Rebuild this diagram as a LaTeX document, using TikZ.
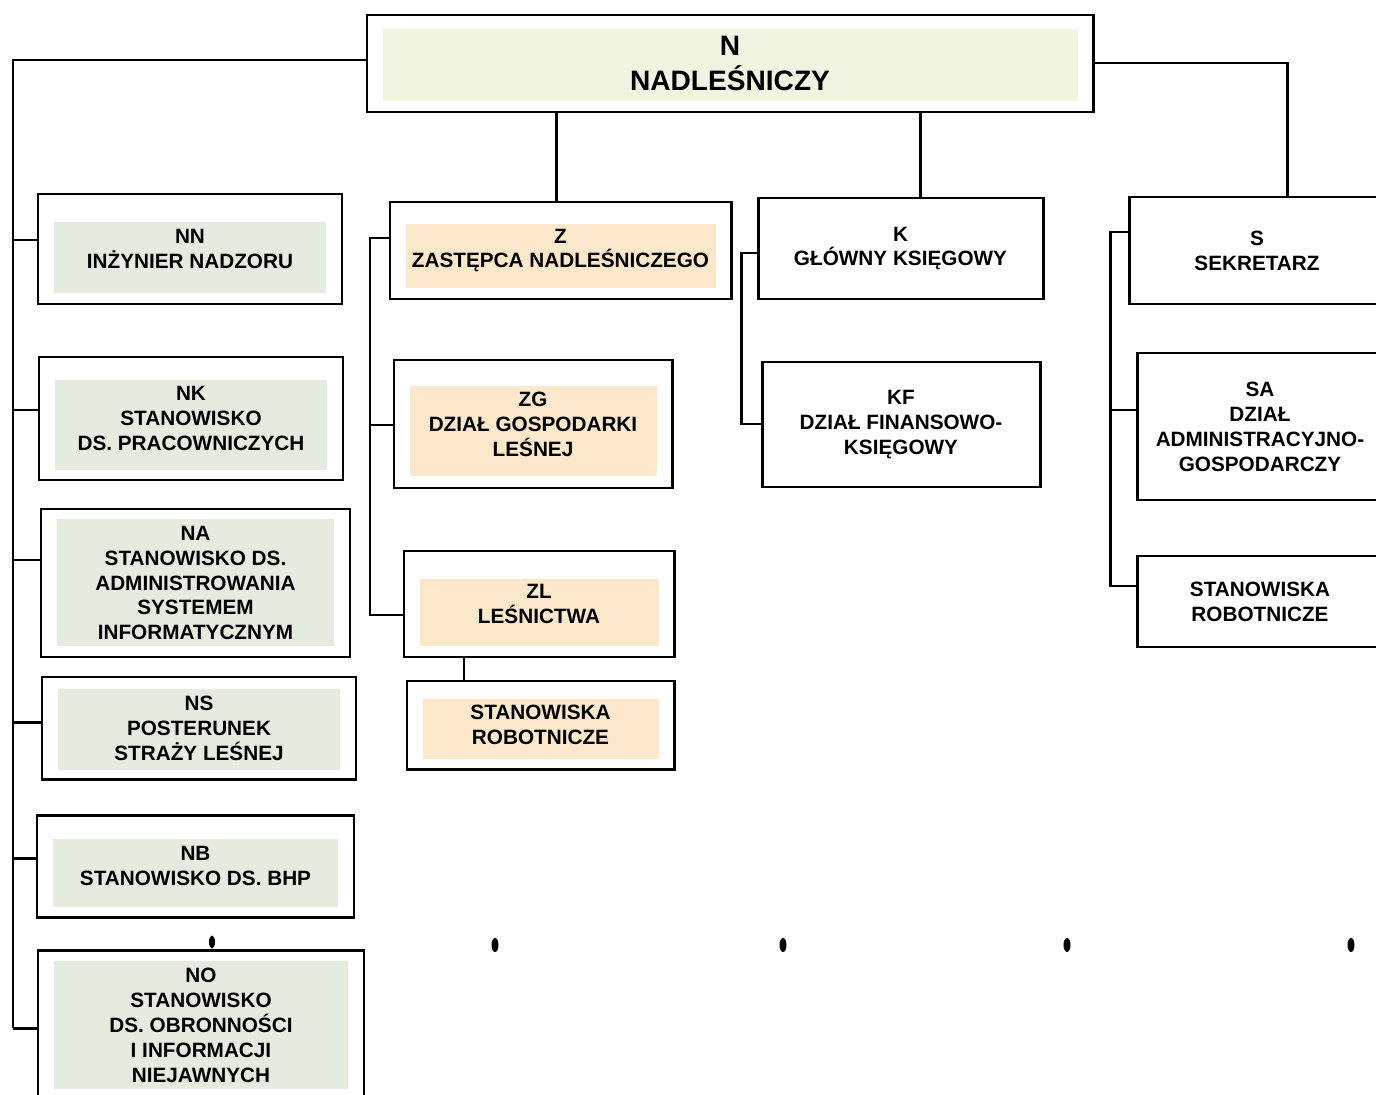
\documentclass[tikz,border=0pt]{standalone}
\usepackage{fontspec}
\setmainfont{Liberation Sans}
\usetikzlibrary{calc, backgrounds}

\definecolor{fillN}{HTML}{F2F4E2}
\definecolor{fillgreen}{HTML}{E5ECDF}
\definecolor{fillpeach}{HTML}{FBE8CA}

\tikzset{
    unit/.style 2 args={draw, line width=1.7pt, align=center, inner sep=0pt,
        font=\bfseries\fontsize{11.8}{14.2}\selectfont,
        minimum width=#1*0.02cm, minimum height=#2*0.02cm},
    link/.style={line width=1.7pt},
}

% tinted panel inside a box: node, colour, top and bottom inset
\newcommand{\boxfill}[4]{%
    \fill[#2] ($(#1.north west)+(17,#3)$) rectangle ($(#1.south east)+(-17,-#4)$);}

\begin{document}
\begin{tikzpicture}[x=0.02cm, y=-0.02cm]
    \useasboundingbox (0,0) rectangle (1376,1095);

    % head
    \node[unit={726}{97}, font=\bfseries\fontsize{16}{19.9}\selectfont] (N) at (730,63.5) {N\\NADLEŚNICZY};

    % left column
    \node[unit={304}{110}] (NN) at (190,249) {NN\\INŻYNIER NADZORU};
    \node[unit={304}{123}] (NK) at (191,418.5) {NK\\STANOWISKO\\DS. PRACOWNICZYCH};
    \node[unit={309}{148}] (NA) at (195.5,583) {NA\\STANOWISKO DS.\\ADMINISTROWANIA\\SYSTEMEM\\INFORMATYCZNYM};
    \node[unit={314}{102}] (NS) at (199,728) {NS\\POSTERUNEK\\STRAŻY LEŚNEJ};
    \node[unit={317}{102}] (NB) at (195.5,866) {NB\\STANOWISKO DS. BHP};
    \node[unit={326}{150}] (NO) at (201,1025) {NO\\STANOWISKO\\DS. OBRONNOŚCI\\I INFORMACJI\\NIEJAWNYCH};

    % deputy
    \node[unit={341}{97}] (Z) at (560.5,250.5) {Z\\ZASTĘPCA NADLEŚNICZEGO};
    \node[unit={278}{128}] (ZG) at (533,424) {ZG\\DZIAŁ GOSPODARKI\\LEŚNEJ};
    \node[unit={270}{106}] (ZL) at (539,604) {ZL\\LEŚNICTWA};
    \node[unit={267}{88}] (ZR) at (540.5,725) {STANOWISKA\\ROBOTNICZE};

    % accountant
    \node[unit={285}{101}] (K) at (900.5,248.5) {K\\GŁÓWNY KSIĘGOWY};
    \node[unit={278}{125}] (KF) at (901,424.5) {KF\\DZIAŁ FINANSOWO-\\KSIĘGOWY};

    % secretary
    \node[unit={256}{107}] (S) at (1257,250.5) {S\\SEKRETARZ};
    \node[unit={246}{147}] (SA) at (1260,426.5) {SA\\DZIAŁ\\ADMINISTRACYJNO-\\GOSPODARCZY};
    \node[unit={246}{91}] (SR) at (1260,601.5) {STANOWISKA\\ROBOTNICZE};

    \begin{scope}[on background layer]
        \boxfill{N}{fillN}{15}{12}
        \foreach \n/\t/\b in {NN/29/12, NK/24/11, NA/11/12, NS/13/11, NB/25/12, NO/12/13}
            {\boxfill{\n}{fillgreen}{\t}{\b}}
        \foreach \n/\t/\b in {Z/23/12, ZG/27/13, ZL/29/12, ZR/19/12}
            {\boxfill{\n}{fillpeach}{\t}{\b}}
    \end{scope}

    % links
    \coordinate (lbus) at (13,1028);
    \draw[link] (N.west |- 0,60) -| (lbus);
    \foreach \n/\y in {NN/240, NK/410, NA/560, NS/722, NB/858, NO/1028}
        \draw[link] (lbus |- 0,\y) -- (\n.west |- 0,\y);

    \draw[link] (N.south -| 556,0) -- (Z.north -| 556,0);
    \draw[link] (N.south -| 920,0) -- (K.north -| 920,0);
    \draw[link] (N.east |- 0,63) -| (S.north -| 1287,0);

    \coordinate (zbus) at (370,615);
    \draw[link] (Z.west |- 0,238) -| (zbus) -- (ZL.west |- zbus);
    \draw[link] (zbus |- 0,425) -- (ZG.west |- 0,425);
    \draw[link] (ZL.south -| 464,0) -- (ZR.north -| 464,0);

    \coordinate (kbus) at (741,424);
    \draw[link] (K.west |- 0,253) -| (kbus) -- (KF.west |- kbus);

    \coordinate (sbus) at (1110,586);
    \draw[link] (S.west |- 0,232) -| (sbus) -- (SR.west |- sbus);
    \draw[link] (sbus |- 0,410) -- (SA.west |- 0,410);

    % marks
    \fill (212,942) ellipse [x radius=0.06cm, y radius=0.13cm];
    \foreach \x in {495,783,1067,1351}
        \fill (\x,945) ellipse [x radius=0.07cm, y radius=0.14cm];
\end{tikzpicture}
\end{document}
